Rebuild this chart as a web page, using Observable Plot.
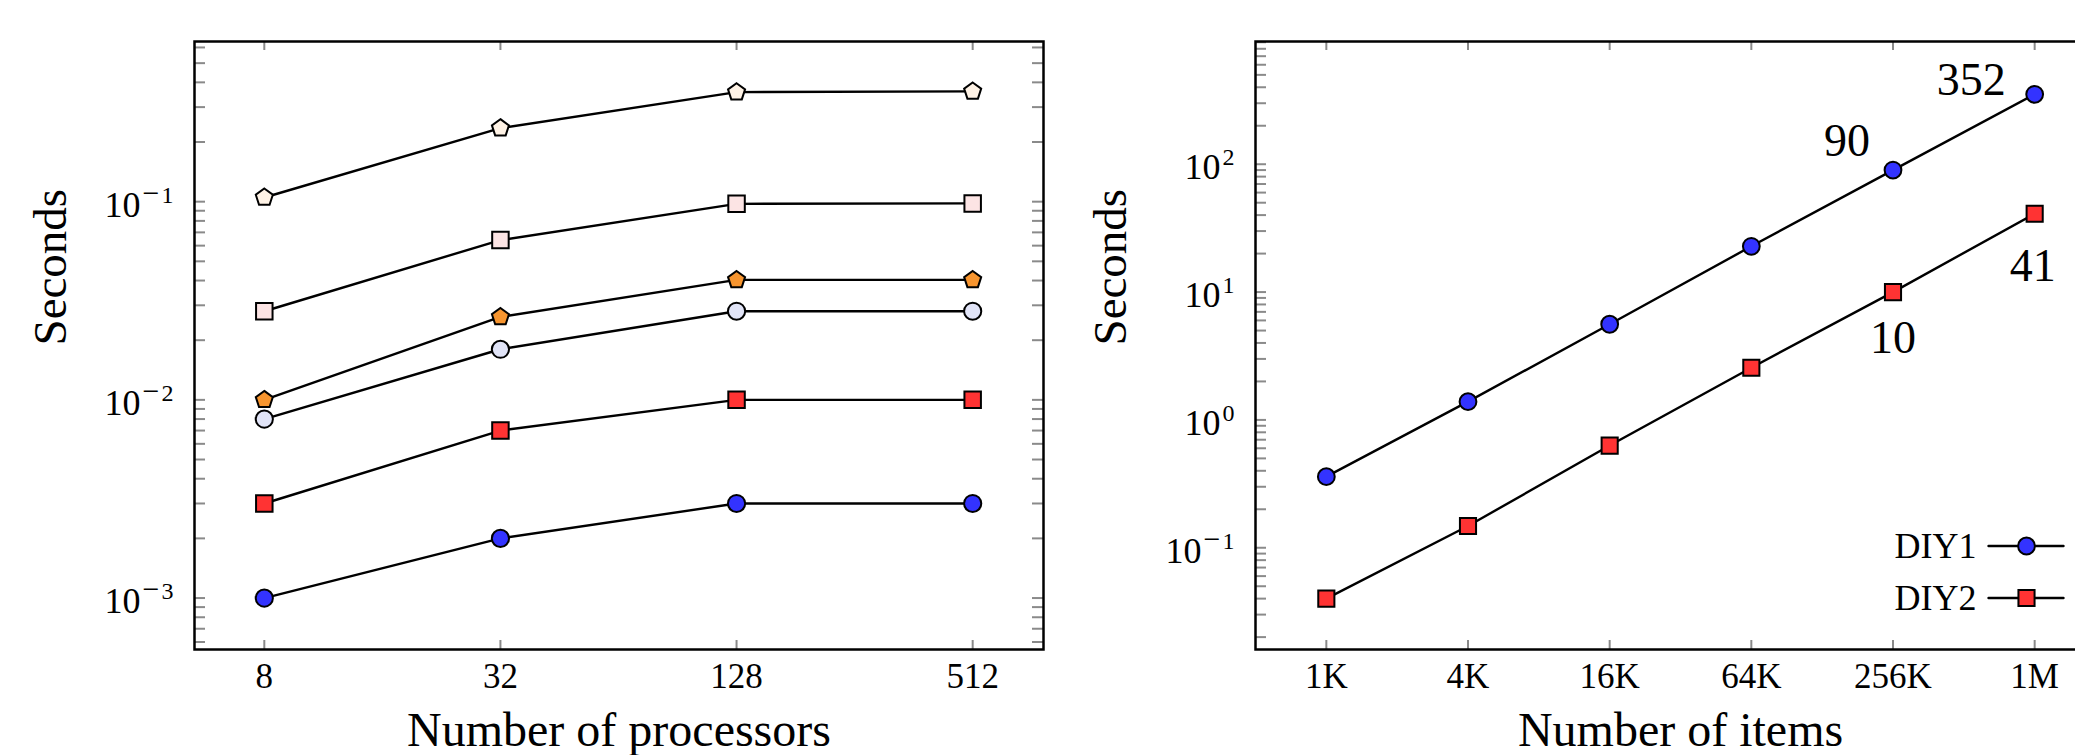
<!DOCTYPE html>
<html><head><meta charset="utf-8">
<script src="https://cdn.jsdelivr.net/npm/d3@7"></script>
<script src="https://cdn.jsdelivr.net/npm/@observablehq/plot@0.6"></script>
<style>
html,body{margin:0;padding:0;background:#fff;overflow:hidden;width:2075px;height:755px}
#wrap{display:flex;flex-wrap:nowrap;width:2200px}
#wrap svg{flex:none;display:block}
</style></head><body><div id="wrap"></div>
<script>
// ---------------- DATA: left panel ----------------
const processors = [8, 32, 128, 512];
const processorTickLabels = ["8", "32", "128", "512"];
const seriesCreamPentagon = [0.105, 0.235, 0.357, 0.36];
const seriesPinkSquare    = [0.028, 0.064, 0.0975, 0.098];
const seriesOrangePentagon= [0.010, 0.0262, 0.0403, 0.0403];
const seriesLavenderCircle= [0.008, 0.018, 0.028, 0.028];
const seriesRedSquare     = [0.003, 0.007, 0.010, 0.010];
const seriesBlueCircle    = [0.001, 0.002, 0.003, 0.003];
const leftYTicks = [1e-3, 1e-2, 1e-1];
const leftYTickLabels = ["10^\u22123", "10^\u22122", "10^\u22121"];

// ---------------- DATA: right panel ----------------
const items = [1024, 4096, 16384, 65536, 262144, 1048576];
const itemTickLabels = ["1K", "4K", "16K", "64K", "256K", "1M"];
const diy1 = [0.36, 1.39, 5.6, 22.8, 90, 352];
const diy2 = [0.040, 0.148, 0.63, 2.56, 10, 41];
const seriesNames = ["DIY1", "DIY2"];
const rightYTicks = [1e-1, 1, 10, 100];
const rightYTickLabels = ["10^\u22121", "10^0", "10^1", "10^2"];
const annotatedItems = [1048576, 262144, 262144, 1048576];
const annotatedValues = [352, 90, 10, 41];
const annotatedText = ["352", "90", "10", "41"];

// ---------------- styling ----------------
const FONT = "'Liberation Serif', 'Times New Roman', serif";
const GRAY = "#8a8a8a";
const leftStyles = [
  {name: "A", values: seriesCreamPentagon,  symbol: "pentagon", fill: "#fff3e6", r: 8},
  {name: "B", values: seriesPinkSquare,     symbol: "square",   fill: "#fce4e4", r: 9.3},
  {name: "C", values: seriesOrangePentagon, symbol: "pentagon", fill: "#f7952f", r: 8},
  {name: "D", values: seriesLavenderCircle, symbol: "circle",   fill: "#e1e4f7", r: 8.6},
  {name: "E", values: seriesRedSquare,      symbol: "square",   fill: "#ff3333", r: 9.3},
  {name: "F", values: seriesBlueCircle,     symbol: "circle",   fill: "#3333ff", r: 8.6}
];
const rightStyles = [
  {name: "DIY1", values: diy1, symbol: "circle", fill: "#3333ff", r: 8.4},
  {name: "DIY2", values: diy2, symbol: "square", fill: "#ff3333", r: 9.1}
];
const pentagon = {
  draw(ctx, size) {
    const R = Math.sqrt(size / Math.PI) * 1.12;
    for (let i = 0; i < 5; i++) {
      const a = -Math.PI / 2 + i * 2 * Math.PI / 5;
      const x = R * Math.cos(a), y = R * Math.sin(a);
      i ? ctx.lineTo(x, y) : ctx.moveTo(x, y);
    }
    ctx.closePath();
  }
};
const sym = s => s === "pentagon" ? pentagon : s;

function superscriptify(svg) {
  d3.select(svg).selectAll("text").each(function () {
    const t = this.textContent;
    if (!t.includes("^")) return;
    const [base, exp] = t.split("^");
    const sel = d3.select(this);
    sel.text(null);
    sel.append("tspan").text(base);
    if (exp.startsWith("\u2212")) {
      sel.append("tspan").attr("dx", 2).attr("dy", -14).attr("font-size", 30).text("\u2212");
      sel.append("tspan").attr("dx", 2).attr("font-size", 24).text(exp.slice(1));
    } else {
      sel.append("tspan").attr("dx", 2).attr("dy", -14).attr("font-size", 24).text(exp);
    }
  });
}

function minorTicks(lo, hi) {
  const out = [];
  for (let e = Math.floor(Math.log10(lo)); e <= Math.ceil(Math.log10(hi)); e++) {
    for (let m = 1; m <= 9; m++) {
      const v = m * Math.pow(10, e);
      if (v >= lo && v <= hi) out.push(v);
    }
  }
  return out;
}

function panel({width, height, mt, mb, ml, mr, xDomain, yDomain, xTicks, xLabels, yTicks, yLabels, styles, xTitle, yTitle, extra}) {
  const H = height - mt - mb, W = width - ml - mr;
  const rows = styles.flatMap(s => s.values.map((v, i) => ({x: xTicks[i], y: v, series: s.name})));
  const yt = minorTicks(yDomain[0], yDomain[1]);
  const marks = [
    Plot.tickY(yt, {y: d => d, stroke: GRAY, strokeWidth: 2, insetRight: W - 11}),
    Plot.tickY(yt, {y: d => d, stroke: GRAY, strokeWidth: 2, insetLeft: W - 11}),
    Plot.tickX(xTicks, {x: d => d, stroke: GRAY, strokeWidth: 2, insetBottom: H - 9}),
    Plot.tickX(xTicks, {x: d => d, stroke: GRAY, strokeWidth: 2, insetTop: H - 9}),
    Plot.text(xTicks, {x: d => d, frameAnchor: "bottom", dy: 38, lineAnchor: "bottom", fontSize: 35,
      text: (d, i) => xLabels[i]}),
    Plot.text(yTicks, {y: d => d, frameAnchor: "left", dx: -21, dy: 15, textAnchor: "end", lineAnchor: "bottom",
      fontSize: 36, text: (d, i) => yLabels[i]}),
    Plot.text([xTitle], {frameAnchor: "bottom", dy: 96, lineAnchor: "bottom", fontSize: 48, text: d => d}),
    Plot.text([yTitle], {frameAnchor: "left", dx: -(ml - 65), rotate: -90, lineAnchor: "bottom", fontSize: 47, text: d => d}),
    Plot.line(rows, {x: "x", y: "y", z: "series", stroke: "black", strokeWidth: 2.4})
  ];
  for (const s of styles) {
    marks.push(Plot.dot(rows.filter(d => d.series === s.name), {
      x: "x", y: "y", symbol: sym(s.symbol), r: s.r, fill: s.fill, stroke: "black", strokeWidth: 2
    }));
  }
  if (extra) marks.push(...extra());
  marks.push(Plot.frame({stroke: "black", strokeWidth: 2.5}));
  const svg = Plot.plot({
    width, height, marginTop: mt, marginBottom: mb, marginLeft: ml, marginRight: mr,
    style: {fontFamily: FONT, color: "black", background: "white", overflow: "visible"},
    x: {type: "log", domain: xDomain, axis: null},
    y: {type: "log", domain: yDomain, axis: null},
    marks
  });
  superscriptify(svg);
  return svg;
}

const left = panel({
  width: 1060, height: 755, mt: 41, mb: 106, ml: 194, mr: 17,
  xDomain: [5.31, 776], yDomain: [0.00055, 0.643],
  xTicks: processors, xLabels: processorTickLabels,
  yTicks: leftYTicks, yLabels: leftYTickLabels,
  styles: leftStyles, xTitle: "Number of processors", yTitle: "Seconds"
});

const annRows = annotatedValues.map((v, i) => ({x: annotatedItems[i], y: v, t: annotatedText[i]}));
const right = panel({
  width: 1062, height: 755, mt: 41, mb: 106, ml: 195, mr: 17,
  xDomain: [512, 2097152], yDomain: [0.016, 912],
  xTicks: items, xLabels: itemTickLabels,
  yTicks: rightYTicks, yLabels: rightYTickLabels,
  styles: rightStyles, xTitle: "Number of items", yTitle: "Seconds",
  extra: () => {
    const seg = {draw(ctx, l) { ctx.moveTo(0, 0); ctx.lineTo(0, -l); }};
    const out = [
      Plot.text(annRows.filter(d => d.t === "352"), {x: "x", y: "y", text: "t", textAnchor: "end", lineAnchor: "bottom", dx: -29, dy: 1, fontSize: 46}),
      Plot.text(annRows.filter(d => d.t === "90"), {x: "x", y: "y", text: "t", textAnchor: "end", lineAnchor: "bottom", dx: -23, dy: -14, fontSize: 46}),
      Plot.text(annRows.filter(d => d.t === "10"), {x: "x", y: "y", text: "t", textAnchor: "middle", lineAnchor: "bottom", dx: 0, dy: 61, fontSize: 46}),
      Plot.text(annRows.filter(d => d.t === "41"), {x: "x", y: "y", text: "t", textAnchor: "middle", lineAnchor: "bottom", dx: -2, dy: 67, fontSize: 46})
    ];
    const dys = [-103.5, -51.5];
    rightStyles.forEach((s, i) => {
      out.push(Plot.vector([seriesNames[i]], {frameAnchor: "bottom-right", dx: -117, dy: dys[i], length: 75, rotate: 90, anchor: "start", shape: seg, stroke: "black", strokeWidth: 2.4}));
      out.push(Plot.dot([seriesNames[i]], {frameAnchor: "bottom-right", dx: -79, dy: dys[i], symbol: sym(s.symbol), r: s.r, fill: s.fill, stroke: "black", strokeWidth: 2}));
      out.push(Plot.text([seriesNames[i]], {frameAnchor: "bottom-right", dx: -129, dy: dys[i], text: d => d, textAnchor: "end", lineAnchor: "middle", fontSize: 36}));
    });
    return out;
  }
});

document.getElementById("wrap").append(left, right);
</script>
</body></html>
